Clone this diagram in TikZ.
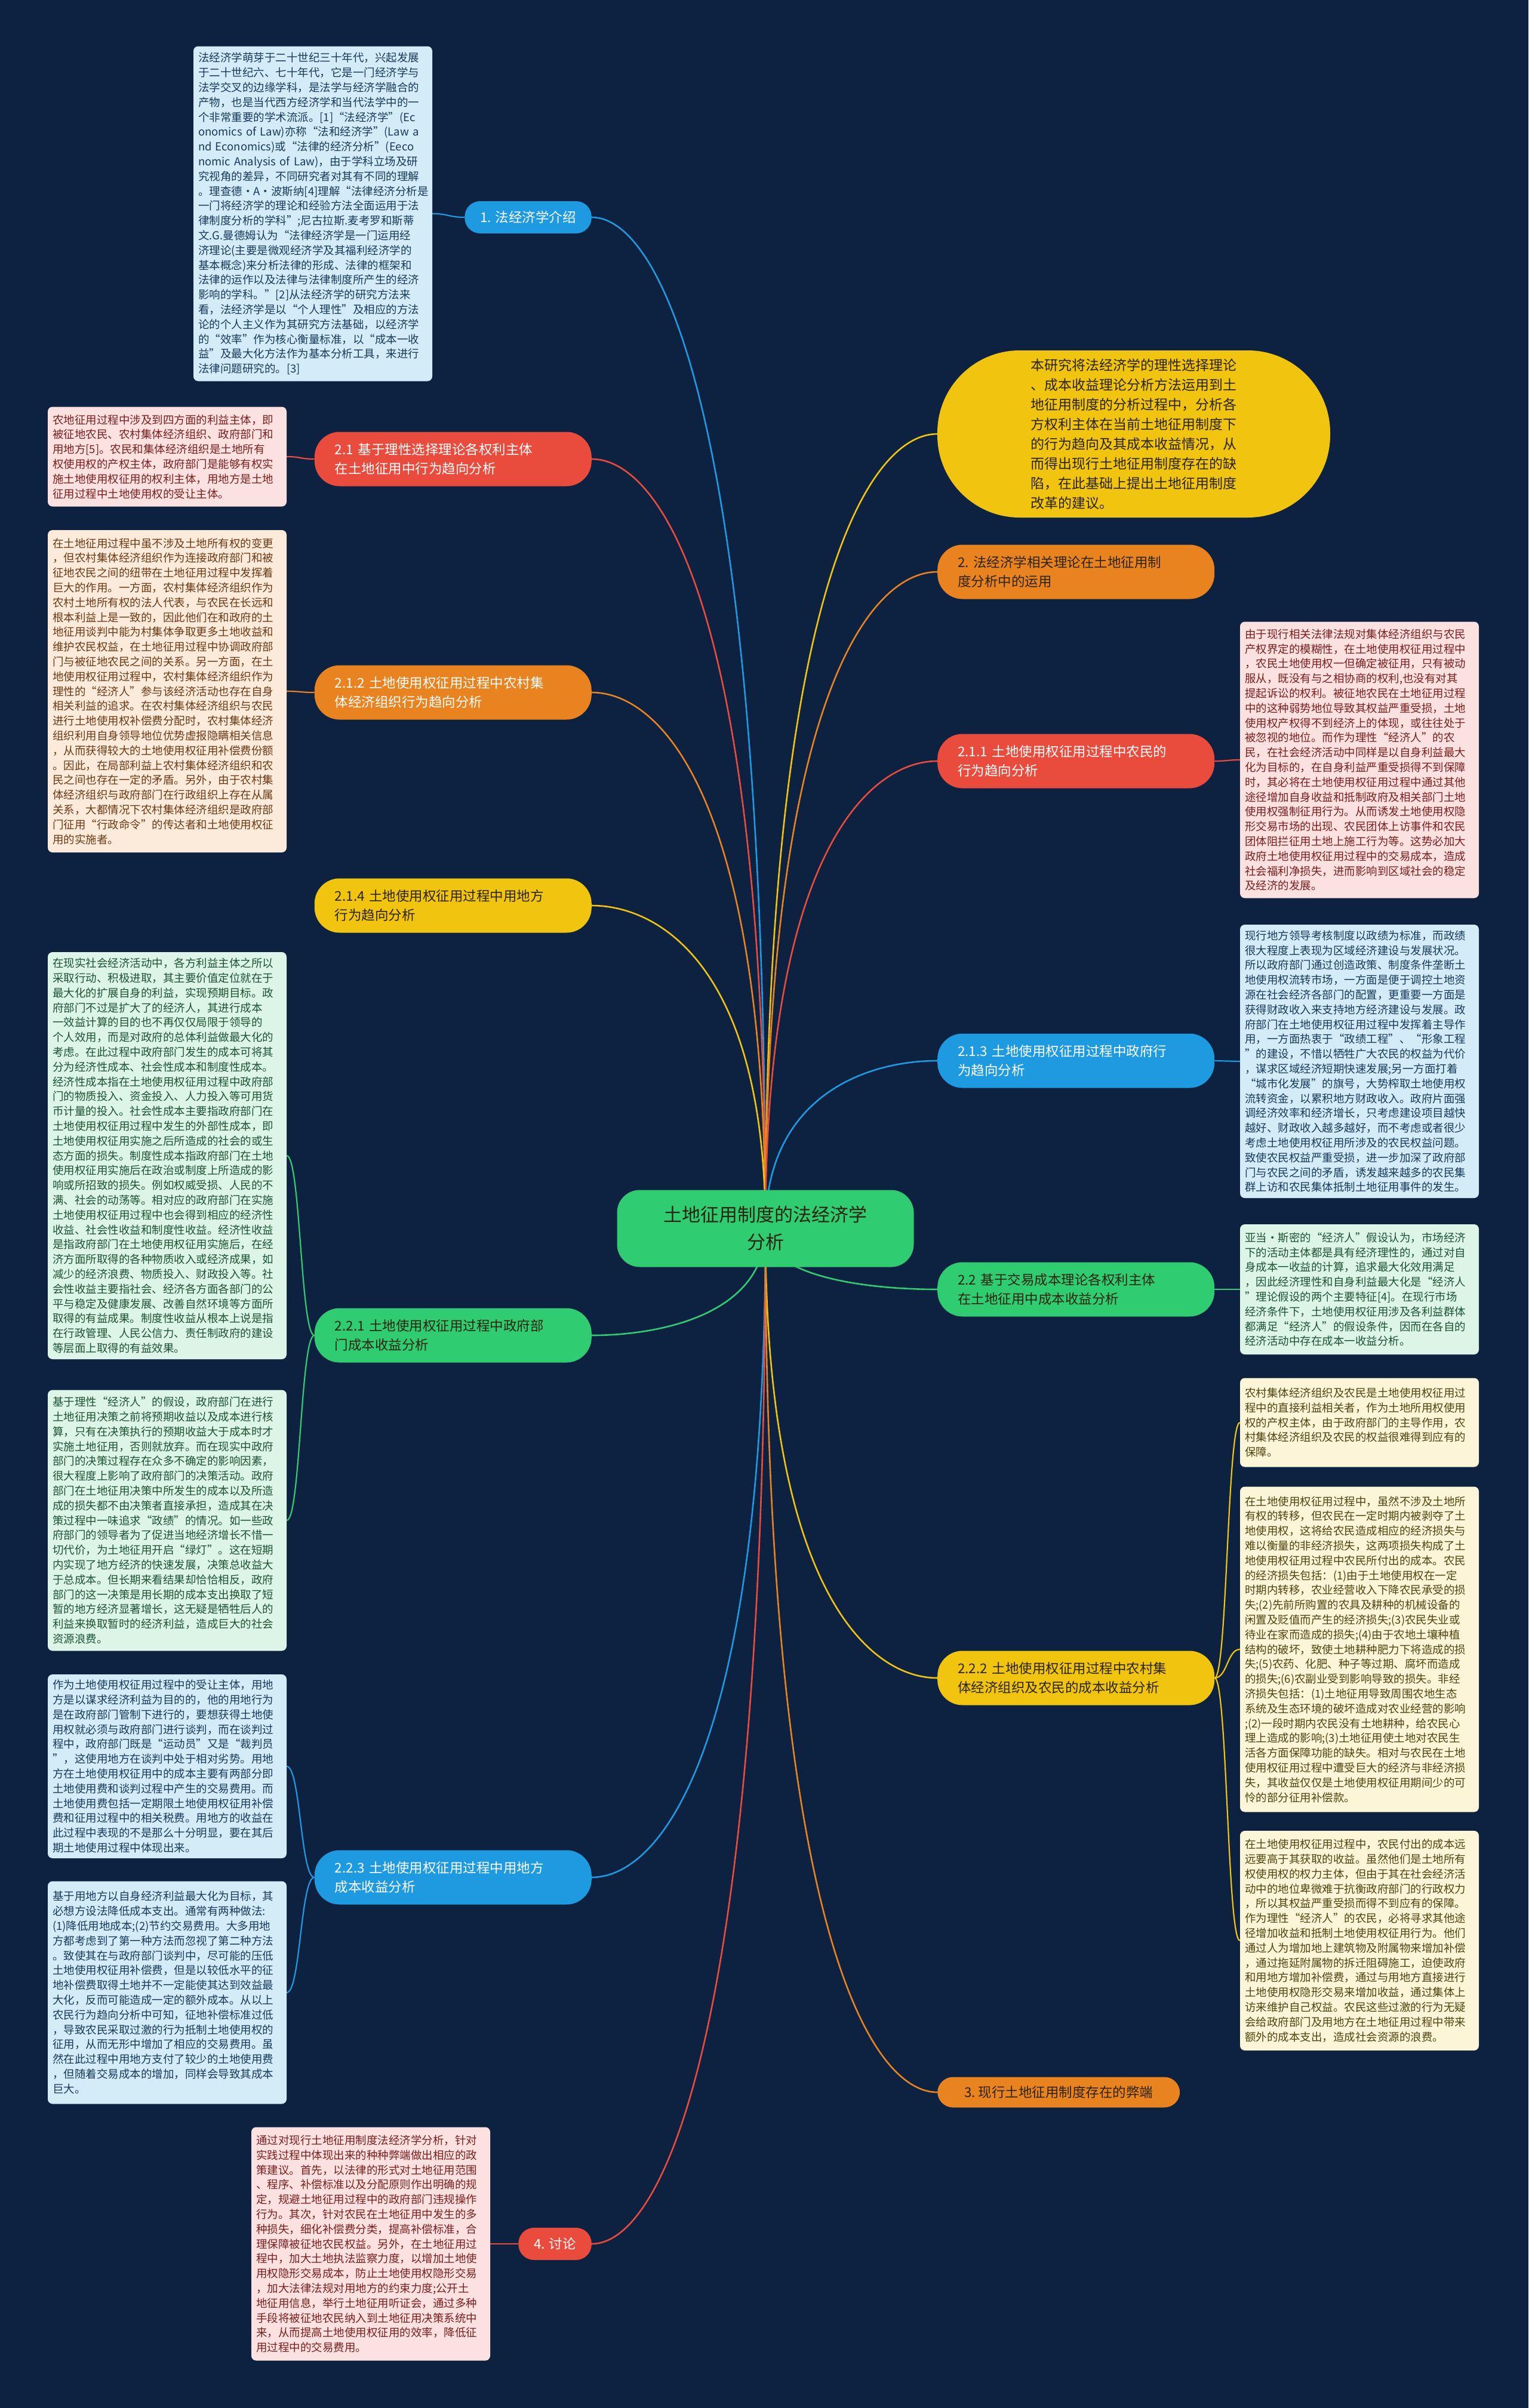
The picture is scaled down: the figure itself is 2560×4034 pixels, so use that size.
\documentclass[tikz,border=0pt]{standalone}
\usepackage{fontspec}
\setmainfont{Noto Sans CJK SC}
\definecolor{navy}{HTML}{0D2140}
\definecolor{skyb}{HTML}{1E9AE0}
\definecolor{redb}{HTML}{E94B3C}
\definecolor{orab}{HTML}{E8831F}
\definecolor{yelb}{HTML}{F1C40F}
\definecolor{grnb}{HTML}{2FCC71}
\definecolor{skyl}{HTML}{D4ECF8}
\definecolor{redl}{HTML}{FBE1DF}
\definecolor{oral}{HTML}{FCEADB}
\definecolor{yell}{HTML}{FDF5D8}
\definecolor{grnl}{HTML}{DDF5E7}
\definecolor{skyd}{HTML}{17395A}
\definecolor{redd}{HTML}{7A1E1E}
\definecolor{orad}{HTML}{6B3A14}
\definecolor{yeld}{HTML}{4F430F}
\definecolor{grnd}{HTML}{1D5233}
\definecolor{ink}{HTML}{2B2410}
\usetikzlibrary{calc, backgrounds}

\begin{document}
\begin{tikzpicture}[x=1pt, y=-1pt,
  note/.style={rounded corners=8pt, text width=384pt, inner xsep=8pt, inner ysep=6pt,
               align=left, font=\fontsize{18.5}{24.8}\selectfont},
  skynote/.style={note, fill=skyl, text=skyd},
  rednote/.style={note, fill=redl, text=redd},
  oranote/.style={note, fill=oral, text=orad},
  grnnote/.style={note, fill=grnl, text=grnd},
  yelnote/.style={note, fill=yell, text=yeld},
  tag/.style={rounded corners=42pt, text width=396pt, inner xsep=34pt, minimum height=91pt,
              align=left, font=\fontsize{22.5}{32}\selectfont},
  chip/.style={rounded corners=26pt, inner xsep=26pt, minimum height=54pt,
               font=\fontsize{22.5}{32}\selectfont},
  branch/.style={line width=2.6pt, to path={.. controls ($(\tikztostart)!.8!(\tikztostart|-\tikztotarget)$)
                 and ($(\tikztotarget)!.4!(\tikztostart|-\tikztotarget)$) .. (\tikztotarget)}},
  twig/.style={line width=2.2pt, to path={.. controls ($(\tikztostart)!.5!(\tikztotarget|-\tikztostart)$)
               and ($(\tikztotarget)!.5!(\tikztostart|-\tikztotarget)$) .. (\tikztotarget)}},
]
\useasboundingbox (0,0) rectangle (2560,4034);

\node[fill=grnb, text=ink, rounded corners=38pt, minimum width=497pt, minimum height=129pt,
      align=center, font=\fontsize{31}{46}\selectfont] (core) at (1282,2058) {土地征用制度的法经济学\\分析};

\node[chip, fill=skyb, text=white, anchor=east] (intro) at (991,364) {1. 法经济学介绍};
\node[skynote, minimum height=561pt] (introtxt) at (524,358) {法经济学萌芽于二十世纪三十年代，兴起发展\\于二十世纪六、七十年代，它是一门经济学与\\法学交叉的边缘学科，是法学与经济学融合的\\产物，也是当代西方经济学和当代法学中的一\\个非常重要的学术流派。[1]“法经济学”(Ec\\onomics~of~Law)亦称“法和经济学”(Law~a\\nd~Economics)或“法律的经济分析”(Eeco\\nomic~Analysis~of~Law)，由于学科立场及研\\究视角的差异，不同研究者对其有不同的理解\\。理查德·A·波斯纳[4]理解“法律经济分析是\\一门将经济学的理论和经验方法全面运用于法\\律制度分析的学科”;尼古拉斯.麦考罗和斯蒂\\文.G.曼德姆认为“法律经济学是一门运用经\\济理论(主要是微观经济学及其福利经济学的\\基本概念)来分析法律的形成、法律的框架和\\法律的运作以及法律与法律制度所产生的经济\\影响的学科。”[2]从法经济学的研究方法来\\看，法经济学是以“个人理性”及相应的方法\\论的个人主义作为其研究方法基础，以经济学\\的“效率”作为核心衡量标准，以“成本一收\\益”及最大化方法作为基本分析工具，来进行\\法律问题研究的。[3]};

\node[tag, fill=redb, text=white, anchor=east] (sec21) at (991,769) {2.1~基于理性选择理论各权利主体\\在土地征用中行为趋向分析};
\node[rednote, minimum height=167pt] (sec21txt) at (280,765) {农地征用过程中涉及到四方面的利益主体，即\\被征地农民、农村集体经济组织、政府部门和\\用地方[5]。农民和集体经济组织是土地所有\\权使用权的产权主体，政府部门是能够有权实\\施土地使用权征用的权利主体，用地方是土地\\征用过程中土地使用权的受让主体。};

\node[tag, fill=orab, text=white, anchor=east] (sec212) at (991,1160) {2.1.2~土地使用权征用过程中农村集\\体经济组织行为趋向分析};
\node[oranote, minimum height=540pt] (sec212txt) at (280,1158) {在土地征用过程中虽不涉及土地所有权的变更\\，但农村集体经济组织作为连接政府部门和被\\征地农民之间的纽带在土地征用过程中发挥着\\巨大的作用。一方面，农村集体经济组织作为\\农村土地所有权的法人代表，与农民在长远和\\根本利益上是一致的，因此他们在和政府的土\\地征用谈判中能为村集体争取更多土地收益和\\维护农民权益，在土地征用过程中协调政府部\\门与被征地农民之间的关系。另一方面，在土\\地使用权征用过程中，农村集体经济组织作为\\理性的“经济人”参与该经济活动也存在自身\\相关利益的追求。在农村集体经济组织与农民\\进行土地使用权补偿费分配时，农村集体经济\\组织利用自身领导地位优势虚报隐瞒相关信息\\，从而获得较大的土地使用权征用补偿费份额\\。因此，在局部利益上农村集体经济组织和农\\民之间也存在一定的矛盾。另外，由于农村集\\体经济组织与政府部门在行政组织上存在从属\\关系，大都情况下农村集体经济组织是政府部\\门征用“行政命令”的传达者和土地使用权征\\用的实施者。};

\node[tag, fill=yelb, text=ink, anchor=east] (sec214) at (991,1517) {2.1.4~土地使用权征用过程中用地方\\行为趋向分析};

\node[tag, fill=grnb, text=ink, anchor=east] (sec221) at (991,2237) {2.2.1~土地使用权征用过程中政府部\\门成本收益分析};
\node[grnnote, minimum height=682pt] (sec221a) at (280,1936) {在现实社会经济活动中，各方利益主体之所以\\采取行动、积极进取，其主要价值定位就在于\\最大化的扩展自身的利益，实现预期目标。政\\府部门不过是扩大了的经济人，其进行成本\\一效益计算的目的也不再仅仅局限于领导的\\个人效用，而是对政府的总体利益做最大化的\\考虑。在此过程中政府部门发生的成本可将其\\分为经济性成本、社会性成本和制度性成本。\\经济性成本指在土地使用权征用过程中政府部\\门的物质投入、资金投入、人力投入等可用货\\币计量的投入。社会性成本主要指政府部门在\\土地使用权征用过程中发生的外部性成本，即\\土地使用权征用实施之后所造成的社会的或生\\态方面的损失。制度性成本指政府部门在土地\\使用权征用实施后在政治或制度上所造成的影\\响或所招致的损失。例如权威受损、人民的不\\满、社会的动荡等。相对应的政府部门在实施\\土地使用权征用过程中也会得到相应的经济性\\收益、社会性收益和制度性收益。经济性收益\\是指政府部门在土地使用权征用实施后，在经\\济方面所取得的各种物质收入或经济成果，如\\减少的经济浪费、物质投入、财政投入等。社\\会性收益主要指社会、经济各方面各部门的公\\平与稳定及健康发展、改善自然环境等方面所\\取得的有益成果。制度性收益从根本上说是指\\在行政管理、人民公信力、责任制政府的建设\\等层面上取得的有益效果。};
\node[grnnote, minimum height=437pt] (sec221b) at (280,2547) {基于理性“经济人”的假设，政府部门在进行\\土地征用决策之前将预期收益以及成本进行核\\算，只有在决策执行的预期收益大于成本时才\\实施土地征用，否则就放弃。而在现实中政府\\部门的决策过程存在众多不确定的影响因素，\\很大程度上影响了政府部门的决策活动。政府\\部门在土地征用决策中所发生的成本以及所造\\成的损失都不由决策者直接承担，造成其在决\\策过程中一味追求“政绩”的情况。如一些政\\府部门的领导者为了促进当地经济增长不惜一\\切代价，为土地征用开启“绿灯”。这在短期\\内实现了地方经济的快速发展，决策总收益大\\于总成本。但长期来看结果却恰恰相反，政府\\部门的这一决策是用长期的成本支出换取了短\\暂的地方经济显著增长，这无疑是牺牲后人的\\利益来换取暂时的经济利益，造成巨大的社会\\资源浪费。};

\node[tag, fill=skyb, text=white, anchor=east] (sec223) at (991,3145) {2.2.3~土地使用权征用过程中用地方\\成本收益分析};
\node[skynote, minimum height=308pt] (sec223a) at (280,2959) {作为土地使用权征用过程中的受让主体，用地\\方是以谋求经济利益为目的的，他的用地行为\\是在政府部门管制下进行的，要想获得土地使\\用权就必须与政府部门进行谈判，而在谈判过\\程中，政府部门既是“运动员”又是“裁判员\\”，这使用地方在谈判中处于相对劣势。用地\\方在土地使用权征用中的成本主要有两部分即\\土地使用费和谈判过程中产生的交易费用。而\\土地使用费包括一定期限土地使用权征用补偿\\费和征用过程中的相关税费。用地方的收益在\\此过程中表现的不是那么十分明显，要在其后\\期土地使用过程中体现出来。};
\node[skynote, minimum height=373pt] (sec223b) at (280,3338) {基于用地方以自身经济利益最大化为目标，其\\必想方设法降低成本支出。通常有两种做法:\\(1)降低用地成本;(2)节约交易费用。大多用地\\方都考虑到了第一种方法而忽视了第二种方法\\。致使其在与政府部门谈判中，尽可能的压低\\土地使用权征用补偿费，但是以较低水平的征\\地补偿费取得土地并不一定能使其达到效益最\\大化，反而可能造成一定的额外成本。从以上\\农民行为趋向分析中可知，征地补偿标准过低\\，导致农民采取过激的行为抵制土地使用权的\\征用，从而无形中增加了相应的交易费用。虽\\然在此过程中用地方支付了较少的土地使用费\\，但随着交易成本的增加，同样会导致其成本\\巨大。};

\node[chip, fill=redb, text=white, anchor=east] (discuss) at (991,3759) {4. 讨论};
\node[rednote, minimum height=391pt] (discusstxt) at (621,3759) {通过对现行土地征用制度法经济学分析，针对\\实践过程中体现出来的种种弊端做出相应的政\\策建议。首先，以法律的形式对土地征用范围\\、程序、补偿标准以及分配原则作出明确的规\\定，规避土地征用过程中的政府部门违规操作\\行为。其次，针对农民在土地征用中发生的多\\种损失，细化补偿费分类，提高补偿标准，合\\理保障被征地农民权益。另外，在土地征用过\\程中，加大土地执法监察力度，以增加土地使\\用权隐形交易成本，防止土地使用权隐形交易\\，加大法律法规对用地方的约束力度;公开土\\地征用信息，举行土地征用听证会，通过多种\\手段将被征地农民纳入到土地征用决策系统中\\来，从而提高土地使用权征用的效率，降低征\\用过程中的交易费用。};

\node[fill=yelb, text=ink, rounded corners=138pt, minimum width=658pt, minimum height=280pt,
      text width=345pt, align=left, font=\fontsize{23}{33}\selectfont] (aim) at (1899,727) {本研究将法经济学的理性选择理论\\、成本收益理论分析方法运用到土\\地征用制度的分析过程中，分析各\\方权利主体在当前土地征用制度下\\的行为趋向及其成本收益情况，从\\而得出现行土地征用制度存在的缺\\陷，在此基础上提出土地征用制度\\改革的建议。};

\node[tag, fill=orab, text=ink, anchor=west] (sec2) at (1570,958) {2.~法经济学相关理论在土地征用制\\度分析中的运用};

\node[tag, fill=redb, text=white, anchor=west] (sec211) at (1570,1275) {2.1.1~土地使用权征用过程中农民的\\行为趋向分析};
\node[rednote, minimum height=463pt] (sec211txt) at (2277,1273) {由于现行相关法律法规对集体经济组织与农民\\产权界定的模糊性，在土地使用权征用过程中\\，农民土地使用权一但确定被征用，只有被动\\服从，既没有与之相协商的权利,也没有对其\\提起诉讼的权利。被征地农民在土地征用过程\\中的这种弱势地位导致其权益严重受损，土地\\使用权产权得不到经济上的体现，或往往处于\\被忽视的地位。而作为理性“经济人”的农\\民，在社会经济活动中同样是以自身利益最大\\化为目标的，在自身利益严重受损得不到保障\\时，其必将在土地使用权征用过程中通过其他\\途径增加自身收益和抵制政府及相关部门土地\\使用权强制征用行为。从而诱发土地使用权隐\\形交易市场的出现、农民团体上访事件和农民\\团体阻拦征用土地上施工行为等。这势必加大\\政府土地使用权征用过程中的交易成本，造成\\社会福利净损失，进而影响到区域社会的稳定\\及经济的发展。};

\node[tag, fill=skyb, text=white, anchor=west] (sec213) at (1570,1777) {2.1.3~土地使用权征用过程中政府行\\为趋向分析};
\node[skynote, minimum height=458pt] (sec213txt) at (2277,1778) {现行地方领导考核制度以政绩为标准，而政绩\\很大程度上表现为区域经济建设与发展状况。\\所以政府部门通过创造政策、制度条件垄断土\\地使用权流转市场，一方面是便于调控土地资\\源在社会经济各部门的配置，更重要一方面是\\获得财政收入来支持地方经济建设与发展。政\\府部门在土地使用权征用过程中发挥着主导作\\用，一方面热衷于“政绩工程”、“形象工程\\”的建设，不惜以牺牲广大农民的权益为代价\\，谋求区域经济短期快速发展;另一方面打着\\“城市化发展”的旗号，大势榨取土地使用权\\流转资金，以累积地方财政收入。政府片面强\\调经济效率和经济增长，只考虑建设项目越快\\越好、财政收入越多越好，而不考虑或者很少\\考虑土地使用权征用所涉及的农民权益问题。\\致使农民权益严重受损，进一步加深了政府部\\门与农民之间的矛盾，诱发越来越多的农民集\\群上访和农民集体抵制土地征用事件的发生。};

\node[tag, fill=grnb, text=ink, anchor=west] (sec22) at (1570,2160) {2.2~基于交易成本理论各权利主体\\在土地征用中成本收益分析};
\node[grnnote, minimum height=218pt] (sec22txt) at (2277,2160) {亚当·斯密的“经济人”假设认为，市场经济\\下的活动主体都是具有经济理性的，通过对自\\身成本一收益的计算，追求最大化效用满足\\，因此经济理性和自身利益最大化是“经济人\\”理论假设的两个主要特征[4]。在现行市场\\经济条件下，土地使用权征用涉及各利益群体\\都满足“经济人”的假设条件，因而在各自的\\经济活动中存在成本一收益分析。};

\node[tag, fill=yelb, text=ink, anchor=west] (sec222) at (1570,2811) {2.2.2~土地使用权征用过程中农村集\\体经济组织及农民的成本收益分析};
\node[yelnote, minimum height=149pt] (sec222a) at (2277,2383) {农村集体经济组织及农民是土地使用权征用过\\程中的直接利益相关者，作为土地所用权使用\\权的产权主体，由于政府部门的主导作用，农\\村集体经济组织及农民的权益很难得到应有的\\保障。};
\node[yelnote, minimum height=545pt] (sec222b) at (2277,2763) {在土地使用权征用过程中，虽然不涉及土地所\\有权的转移，但农民在一定时期内被剥夺了土\\地使用权，这将给农民造成相应的经济损失与\\难以衡量的非经济损失，这两项损失构成了土\\地使用权征用过程中农民所付出的成本。农民\\的经济损失包括：(1)由于土地使用权在一定\\时期内转移，农业经营收入下降农民承受的损\\失;(2)先前所购置的农具及耕种的机械设备的\\闲置及贬值而产生的经济损失;(3)农民失业或\\待业在家而造成的损失;(4)由于农地土壤种植\\结构的破坏，致使土地耕种肥力下将造成的损\\失;(5)农药、化肥、种子等过期、腐坏而造成\\的损失;(6)农副业受到影响导致的损失。非经\\济损失包括：(1)土地征用导致周围农地生态\\系统及生态环境的破坏造成对农业经营的影响\\;(2)一段时期内农民没有土地耕种，给农民心\\理上造成的影响;(3)土地征用使土地对农民生\\活各方面保障功能的缺失。相对与农民在土地\\使用权征用过程中遭受巨大的经济与非经济损\\失，其收益仅仅是土地使用权征用期间少的可\\怜的部分征用补偿款。};
\node[yelnote, minimum height=368pt] (sec222c) at (2277,3251) {在土地使用权征用过程中，农民付出的成本远\\远要高于其获取的收益。虽然他们是土地所有\\权使用权的权力主体，但由于其在社会经济活\\动中的地位卑微难于抗衡政府部门的行政权力\\，所以其权益严重受损而得不到应有的保障。\\作为理性“经济人”的农民，必将寻求其他途\\径增加收益和抵制土地使用权征用行为。他们\\通过人为增加地上建筑物及附属物来增加补偿\\，通过拖延附属物的拆迁阻碍施工，迫使政府\\和用地方增加补偿费，通过与用地方直接进行\\土地使用权隐形交易来增加收益，通过集体上\\访来维护自己权益。农民这些过激的行为无疑\\会给政府部门及用地方在土地征用过程中带来\\额外的成本支出，造成社会资源的浪费。};

\node[chip, fill=orab, text=ink, anchor=west, minimum width=406pt, minimum height=51pt] (sec3) at (1570,3505) {3.~现行土地征用制度存在的弊端};

\begin{scope}[on background layer]
\fill[navy] (0,0) rectangle (2560,4034);
\draw[branch, skyb] (core.center) to (intro.east);
\draw[branch, redb] (core.center) to (sec21.east);
\draw[branch, orab] (core.center) to (sec212.east);
\draw[branch, yelb] (core.center) to (sec214.east);
\draw[branch, grnb] (core.center) to (sec221.east);
\draw[branch, skyb] (core.center) to (sec223.east);
\draw[branch, redb] (core.center) to (discuss.east);
\draw[branch, yelb] (core.center) to (aim.west);
\draw[branch, orab] (core.center) to (sec2.west);
\draw[branch, redb] (core.center) to (sec211.west);
\draw[branch, skyb] (core.center) to (sec213.west);
\draw[branch, grnb] (core.center) to (sec22.west);
\draw[branch, yelb] (core.center) to (sec222.west);
\draw[branch, orab] (core.center) to (sec3.west);

\draw[twig, skyb] (intro.west) to (introtxt.east);
\draw[twig, redb] (sec21.west) to (sec21txt.east);
\draw[twig, orab] (sec212.west) to (sec212txt.east);
\draw[twig, grnb] (sec221.west) to (sec221a.east);
\draw[twig, grnb] (sec221.west) to (sec221b.east);
\draw[twig, skyb] (sec223.west) to (sec223a.east);
\draw[twig, skyb] (sec223.west) to (sec223b.east);
\draw[twig, redb] (discuss.west) to (discusstxt.east);
\draw[twig, redb] (sec211.east) to (sec211txt.west);
\draw[twig, skyb] (sec213.east) to (sec213txt.west);
\draw[twig, grnb] (sec22.east) to (sec22txt.west);
\draw[twig, yelb] (sec222.east) to (sec222a.west);
\draw[twig, yelb] (sec222.east) to (sec222b.west);
\draw[twig, yelb] (sec222.east) to (sec222c.west);
\end{scope}
\end{tikzpicture}
\end{document}
